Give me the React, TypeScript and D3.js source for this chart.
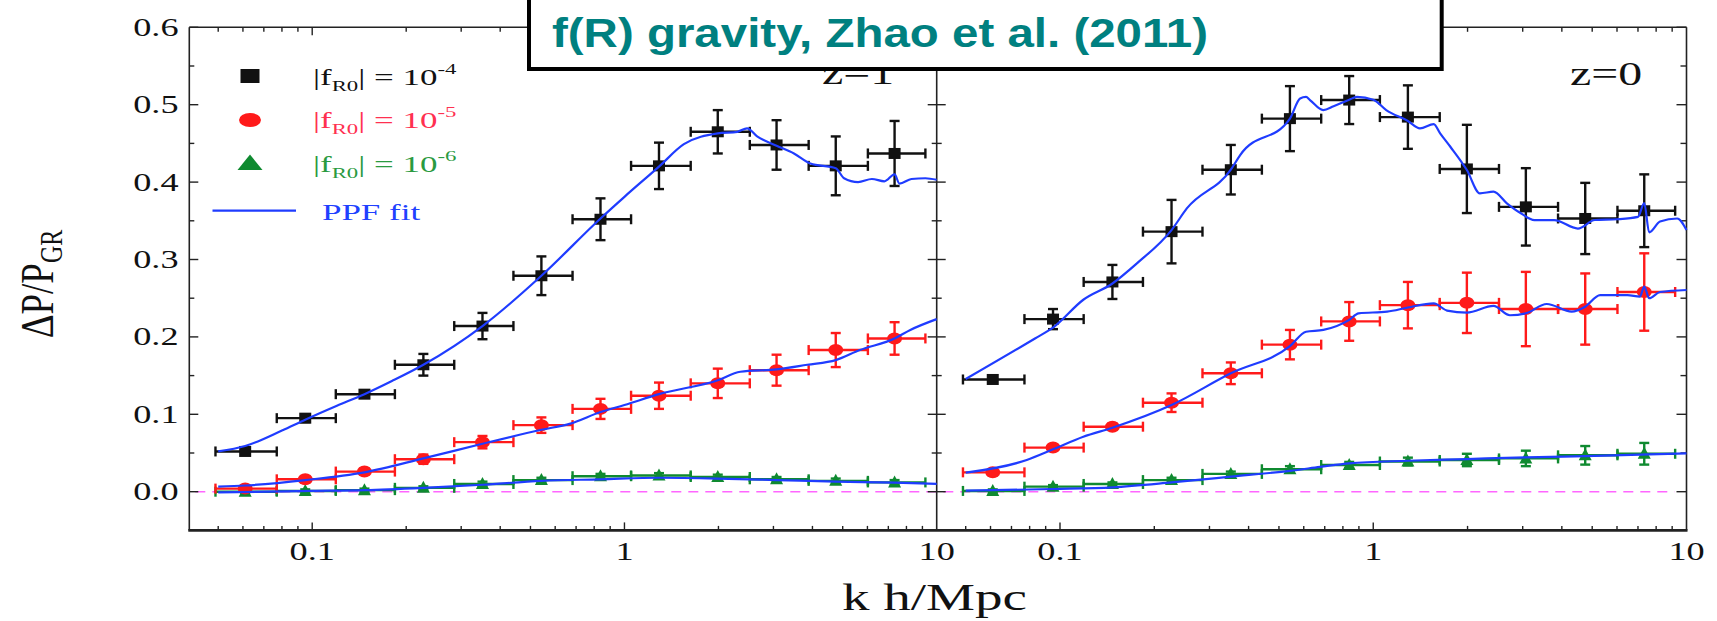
import React from 'react';
import * as d3 from 'd3';

const W = 1717;
const H = 621;
const S = 1.45; // horizontal stretch of the original figure's serif text

// k bins (h/Mpc)
const kCenter = [0.061, 0.095, 0.147, 0.227, 0.351, 0.542, 0.838, 1.29, 1.99, 3.07, 4.75, 7.33];
const kLow = [0.049, 0.077, 0.119, 0.184, 0.285, 0.441, 0.682, 1.05, 1.63, 2.52, 3.89, 6.02];
const kHigh = [0.077, 0.119, 0.184, 0.285, 0.441, 0.682, 1.05, 1.63, 2.52, 3.89, 6.02, 9.2];

// z = 1 panel
const z1Black = [0.052, 0.095, 0.126, 0.164, 0.214, 0.279, 0.352, 0.421, 0.465, 0.448, 0.421, 0.437];
const z1BlackErr = [0.004, 0.005, 0.004, 0.014, 0.017, 0.025, 0.027, 0.030, 0.028, 0.032, 0.038, 0.042];
const z1Red = [0.004, 0.016, 0.026, 0.042, 0.064, 0.086, 0.107, 0.124, 0.140, 0.157, 0.183, 0.198];
const z1RedErr = [0.003, 0.004, 0.004, 0.006, 0.008, 0.010, 0.013, 0.017, 0.019, 0.020, 0.022, 0.021];
const z1Green = [0.000, 0.001, 0.002, 0.005, 0.010, 0.015, 0.020, 0.021, 0.019, 0.016, 0.014, 0.012];
const z1GreenErr = [0.002, 0.002, 0.002, 0.002, 0.003, 0.003, 0.003, 0.003, 0.003, 0.003, 0.003, 0.003];

// z = 0 panel
const z0Black = [0.145, 0.223, 0.271, 0.336, 0.416, 0.482, 0.506, 0.484, 0.417, 0.368, 0.353, 0.363];
const z0BlackErr = [0.004, 0.013, 0.022, 0.041, 0.032, 0.042, 0.031, 0.041, 0.057, 0.050, 0.046, 0.047];
const z0Red = [0.025, 0.057, 0.084, 0.115, 0.153, 0.190, 0.220, 0.241, 0.244, 0.236, 0.236, 0.258];
const z0RedErr = [0.003, 0.004, 0.004, 0.012, 0.014, 0.019, 0.025, 0.030, 0.039, 0.048, 0.046, 0.050];
const z0Green = [0.001, 0.0065, 0.010, 0.015, 0.023, 0.029, 0.0345, 0.039, 0.041, 0.043, 0.047, 0.049];
const z0GreenErr = [0.002, 0.002, 0.002, 0.003, 0.003, 0.004, 0.004, 0.005, 0.008, 0.010, 0.012, 0.014];

// PPF fit curves [k, value]
const z1FitBlack: [number, number][] = [
  [0.05, 0.052], [0.061, 0.059], [0.08, 0.079], [0.095, 0.093], [0.12, 0.111], [0.147, 0.126],
  [0.18, 0.143], [0.227, 0.164], [0.351, 0.214], [0.542, 0.279], [0.838, 0.353], [1.0, 0.381],
  [1.29, 0.420], [1.55, 0.449], [1.99, 0.463], [2.3, 0.465], [2.47, 0.4695], [2.66, 0.459],
  [3.07, 0.447], [3.49, 0.437], [3.94, 0.424], [4.75, 0.418], [5.05, 0.405], [5.6, 0.400],
  [6.2, 0.404], [6.8, 0.401], [7.33, 0.410], [7.6, 0.398], [8.3, 0.404], [9.2, 0.405], [10, 0.403],
];
const z1FitRed: [number, number][] = [
  [0.05, 0.0065], [0.061, 0.008], [0.095, 0.015], [0.147, 0.025], [0.227, 0.043], [0.351, 0.062],
  [0.542, 0.080], [0.671, 0.088], [0.838, 0.103], [1.0, 0.112], [1.29, 0.126], [1.99, 0.144],
  [2.35, 0.155], [3.07, 0.158], [3.85, 0.164], [4.75, 0.170], [5.67, 0.183], [7.33, 0.198],
  [8.23, 0.209], [10, 0.223],
];
const z1FitGreen: [number, number][] = [
  [0.05, -0.001], [0.1, 0.001], [0.147, 0.002], [0.227, 0.005], [0.351, 0.009], [0.542, 0.014],
  [0.838, 0.016], [1.29, 0.018], [1.99, 0.017], [3.07, 0.015], [4.75, 0.013], [7.33, 0.0116], [10, 0.010],
];
const z0FitBlack: [number, number][] = [
  [0.05, 0.1456], [0.0832, 0.198], [0.095, 0.212], [0.1187, 0.248], [0.147, 0.269], [0.176, 0.295],
  [0.227, 0.338], [0.254, 0.366], [0.351, 0.416], [0.376, 0.435], [0.542, 0.482], [0.584, 0.508],
  [0.61, 0.510], [0.628, 0.506], [0.6925, 0.493], [0.747, 0.498], [0.838, 0.5065], [0.887, 0.510],
  [1.0, 0.5065], [1.1, 0.493], [1.29, 0.479], [1.41, 0.4695], [1.56, 0.475], [1.635, 0.463],
  [1.76, 0.446], [1.99, 0.4156], [2.19, 0.3855], [2.42, 0.3876], [2.67, 0.3726], [2.96, 0.3597],
  [3.27, 0.351], [3.78, 0.351], [4.5, 0.340], [5.1, 0.351], [6.0, 0.352], [7.0, 0.355],
  [7.33, 0.373], [7.6, 0.335], [8.23, 0.349], [9.34, 0.353], [10, 0.338],
];
const z0FitRed: [number, number][] = [
  [0.05, 0.0246], [0.0783, 0.041], [0.095, 0.0548], [0.1187, 0.071], [0.147, 0.0827], [0.227, 0.112],
  [0.351, 0.153], [0.542, 0.188], [0.61, 0.2067], [0.693, 0.209], [0.838, 0.222], [0.898, 0.2305],
  [1.107, 0.2326], [1.29, 0.238], [1.56, 0.2434], [1.72, 0.234], [1.99, 0.2313], [2.42, 0.240],
  [2.73, 0.228], [3.07, 0.2305], [3.58, 0.2425], [4.3, 0.2326], [4.75, 0.239], [5.3, 0.254],
  [6.48, 0.254], [7.1, 0.252], [7.33, 0.265], [7.6, 0.250], [8.23, 0.258], [10, 0.2606],
];
const z0FitGreen: [number, number][] = [
  [0.05, 0.0013], [0.095, 0.0035], [0.147, 0.0057], [0.227, 0.012], [0.351, 0.0194], [0.542, 0.027],
  [0.676, 0.032], [0.838, 0.0367], [1.29, 0.040], [1.99, 0.0422], [3.07, 0.0444], [4.75, 0.046], [10, 0.0496],
];

const yMajor = [0.0, 0.1, 0.2, 0.3, 0.4, 0.5, 0.6];
const yMinor = [0.05, 0.15, 0.25, 0.35, 0.45, 0.55];
const xMajor = [0.1, 1, 10];
const xMinor = [0.05, 0.06, 0.07, 0.08, 0.09, 0.2, 0.3, 0.4, 0.5, 0.6, 0.7, 0.8, 0.9, 2, 3, 4, 5, 6, 7, 8, 9];
const xTickLabels = ['0.1', '1', '10'];
const legendExponents = ['-4', '-5', '-6'];

const BLACK = '#111111';
const RED = '#ff1a1a';
const GREEN = '#0f8a30';
const BLUE = '#1f3cff';
const SERIF = "'Liberation Serif', 'DejaVu Serif', 'Times New Roman', serif";

const X0 = 189.3, XD = 936.7, X1 = 1686.5, YT = 27.3, YB = 530.4;
const kMin = 0.0404, kMax = 10;

const y = d3.scaleLinear().domain([-0.05, 0.6]).range([YB, YT]);
const xL = d3.scaleLog().domain([kMin, kMax]).range([X0, XD]);
const xR = d3.scaleLog().domain([kMin, kMax]).range([XD, X1]);

function SText(props: { x: number; y: number; anchor?: string; size: number; fill?: string; children: any; sx?: number }) {
  const { x, y: yy, anchor = 'start', size, fill = '#111', children, sx = S } = props;
  return (
    <g transform={`translate(${x},${yy}) scale(${sx},1)`}>
      <text x={0} y={0} textAnchor={anchor as any} fontSize={size} fill={fill} fontFamily={SERIF}>
        {children}
      </text>
    </g>
  );
}

type Marker = 'square' | 'circle' | 'triangle';

function Series(props: { x: any; vals: number[]; errs: number[]; color: string; marker: Marker }) {
  const { x, vals, errs, color, marker } = props;
  const cap = 5;
  return (
    <g stroke={color} strokeWidth={2.4} fill={color}>
      {vals.map((v, i) => {
        const cx = x(kCenter[i]);
        const cy = y(v);
        const xl = x(kLow[i]);
        const xh = x(kHigh[i]);
        const yl = y(v - errs[i]);
        const yh = y(v + errs[i]);
        let m: any;
        if (marker === 'square') m = <rect x={cx - 6} y={cy - 5.5} width={12} height={11} stroke="none" />;
        else if (marker === 'circle') m = <ellipse cx={cx} cy={cy} rx={7.5} ry={6} stroke="none" />;
        else m = <path d={`M${cx},${cy - 7}L${cx + 6.5},${cy + 5}L${cx - 6.5},${cy + 5}Z`} stroke="none" />;
        return (
          <g key={i}>
            <line x1={xl} x2={xh} y1={cy} y2={cy} />
            <line x1={xl} x2={xl} y1={cy - cap} y2={cy + cap} />
            <line x1={xh} x2={xh} y1={cy - cap} y2={cy + cap} />
            <line x1={cx} x2={cx} y1={yl} y2={yh} />
            <line x1={cx - cap} x2={cx + cap} y1={yl} y2={yl} />
            <line x1={cx - cap} x2={cx + cap} y1={yh} y2={yh} />
            {m}
          </g>
        );
      })}
    </g>
  );
}

function Fit(props: { x: any; data: [number, number][] }) {
  const line = d3
    .line<[number, number]>()
    .x((d) => props.x(d[0]))
    .y((d) => y(d[1]))
    .curve(d3.curveMonotoneX);
  return <path d={line(props.data) || ''} fill="none" stroke={BLUE} strokeWidth={2.2} strokeLinejoin="round" />;
}

function XTicks(props: { x: any }) {
  const { x } = props;
  const out: any[] = [];
  xMinor.forEach((k, i) => {
    const px = x(k);
    out.push(<line key={'bm' + i} x1={px} x2={px} y1={YB} y2={YB - 4.5} />);
    out.push(<line key={'tm' + i} x1={px} x2={px} y1={YT} y2={YT + 4.5} />);
  });
  xMajor.forEach((k, i) => {
    if (k === 10) return;
    const px = x(k);
    out.push(<line key={'bM' + i} x1={px} x2={px} y1={YB} y2={YB - 8} />);
    out.push(<line key={'tM' + i} x1={px} x2={px} y1={YT} y2={YT + 8} />);
  });
  return <g stroke="#222" strokeWidth={1.4}>{out}</g>;
}

const legendColors = ['#111', '#ff3050', '#2a9a40'];
const legendBaselines = [85, 128.3, 171.7];

export default function App() {
  return (
    <svg width={W} height={H} style={{ position: 'absolute', left: 0, top: 0, background: '#fff' }}>
      <rect x={0} y={0} width={W} height={H} fill="#fff" />

      {/* zero reference line */}
      <line x1={X0 + 6} x2={X1 - 12} y1={y(0)} y2={y(0)} stroke="#ff66ff" strokeWidth={1.6} strokeDasharray="10,7" />

      {/* frame */}
      <g stroke="#222" fill="none">
        <line x1={X0} x2={X1} y1={YT} y2={YT} strokeWidth={1.5} />
        <line x1={X0} x2={X0} y1={YT} y2={YB} strokeWidth={1.6} />
        <line x1={XD} x2={XD} y1={YT} y2={YB} strokeWidth={1.6} />
        <line x1={X1} x2={X1} y1={YT} y2={YB} strokeWidth={1.6} />
        <line x1={X0 - 1} x2={X1 + 1} y1={YB} y2={YB} strokeWidth={2.6} />
      </g>

      {/* y ticks */}
      <g stroke="#222" strokeWidth={1.4}>
        {yMajor.map((v, i) => (
          <g key={'ym' + i}>
            <line x1={X0} x2={X0 + 9} y1={y(v)} y2={y(v)} />
            <line x1={XD - 9} x2={XD + 9} y1={y(v)} y2={y(v)} />
            <line x1={X1 - 10} x2={X1} y1={y(v)} y2={y(v)} />
          </g>
        ))}
        {yMinor.map((v, i) => (
          <g key={'yn' + i}>
            <line x1={X0} x2={X0 + 5} y1={y(v)} y2={y(v)} />
            <line x1={XD - 5} x2={XD + 5} y1={y(v)} y2={y(v)} />
            <line x1={X1 - 6} x2={X1} y1={y(v)} y2={y(v)} />
          </g>
        ))}
      </g>

      {/* x ticks */}
      <XTicks x={xL} />
      <XTicks x={xR} />

      {/* y tick labels */}
      {yMajor.map((v, i) => (
        <SText key={'yl' + i} x={178.5} y={y(v) + 8.5} anchor="end" size={25}>
          {d3.format('.1f')(v)}
        </SText>
      ))}

      {/* x tick labels */}
      {xMajor.map((k, i) => (
        <SText key={'xlL' + i} x={xL(k)} y={559.5} anchor="middle" size={25}>
          {xTickLabels[i]}
        </SText>
      ))}
      {xMajor.map((k, i) => (
        <SText key={'xlR' + i} x={xR(k)} y={559.5} anchor="middle" size={25}>
          {xTickLabels[i]}
        </SText>
      ))}

      {/* axis labels */}
      <SText x={934.5} y={610} anchor="middle" size={38}>
        k h/Mpc
      </SText>
      <g transform={`translate(53,284) scale(1.28,1) rotate(-90)`}>
        <text x={0} y={0} textAnchor="middle" fontSize={37} fill="#111" fontFamily={SERIF}>
          ΔP/P
          <tspan fontSize={24} dy={7}>GR</tspan>
        </text>
      </g>

      {/* data: z=1 */}
      <Series x={xL} vals={z1Green} errs={z1GreenErr} color={GREEN} marker="triangle" />
      <Series x={xL} vals={z1Red} errs={z1RedErr} color={RED} marker="circle" />
      <Series x={xL} vals={z1Black} errs={z1BlackErr} color={BLACK} marker="square" />
      <Fit x={xL} data={z1FitGreen} />
      <Fit x={xL} data={z1FitRed} />
      <Fit x={xL} data={z1FitBlack} />

      {/* data: z=0 */}
      <Series x={xR} vals={z0Green} errs={z0GreenErr} color={GREEN} marker="triangle" />
      <Series x={xR} vals={z0Red} errs={z0RedErr} color={RED} marker="circle" />
      <Series x={xR} vals={z0Black} errs={z0BlackErr} color={BLACK} marker="square" />
      <Fit x={xR} data={z0FitGreen} />
      <Fit x={xR} data={z0FitRed} />
      <Fit x={xR} data={z0FitBlack} />

      {/* panel labels */}
      <SText x={822} y={83.5} size={33}>z=1</SText>
      <SText x={1570} y={85} size={33}>z=0</SText>

      {/* legend */}
      <rect x={240.5} y={69} width={19} height={14} fill={BLACK} />
      <ellipse cx={250} cy={120} rx={11} ry={7} fill={RED} />
      <path d="M250,154.5L262.5,170L237.5,170Z" fill={GREEN} />
      <line x1={212.5} x2={296} y1={210.7} y2={210.7} stroke={BLUE} strokeWidth={2.2} />
      {legendExponents.map((e, i) => (
        <SText key={'lg' + i} x={313} y={legendBaselines[i]} size={23} fill={legendColors[i]} sx={1.52}>
          |f<tspan fontSize={15} dy={6}>R0</tspan>
          <tspan dy={-6}>| = 10</tspan>
          <tspan fontSize={15} dy={-11}>{e}</tspan>
        </SText>
      ))}
      <SText x={322} y={220} size={23} fill="#2040ff" sx={1.52}>
        PPF fit
      </SText>

      {/* title box */}
      <rect x={529} y={-10} width={912.7} height={79} fill="#fff" stroke="#000" strokeWidth={4} />
      <text
        x={552}
        y={47}
        fontSize={40}
        fontWeight="bold"
        fill="#008080"
        fontFamily="'Liberation Sans', Arial, sans-serif"
        textLength={656}
        lengthAdjust="spacingAndGlyphs"
      >
        f(R) gravity, Zhao et al. (2011)
      </text>
    </svg>
  );
}
